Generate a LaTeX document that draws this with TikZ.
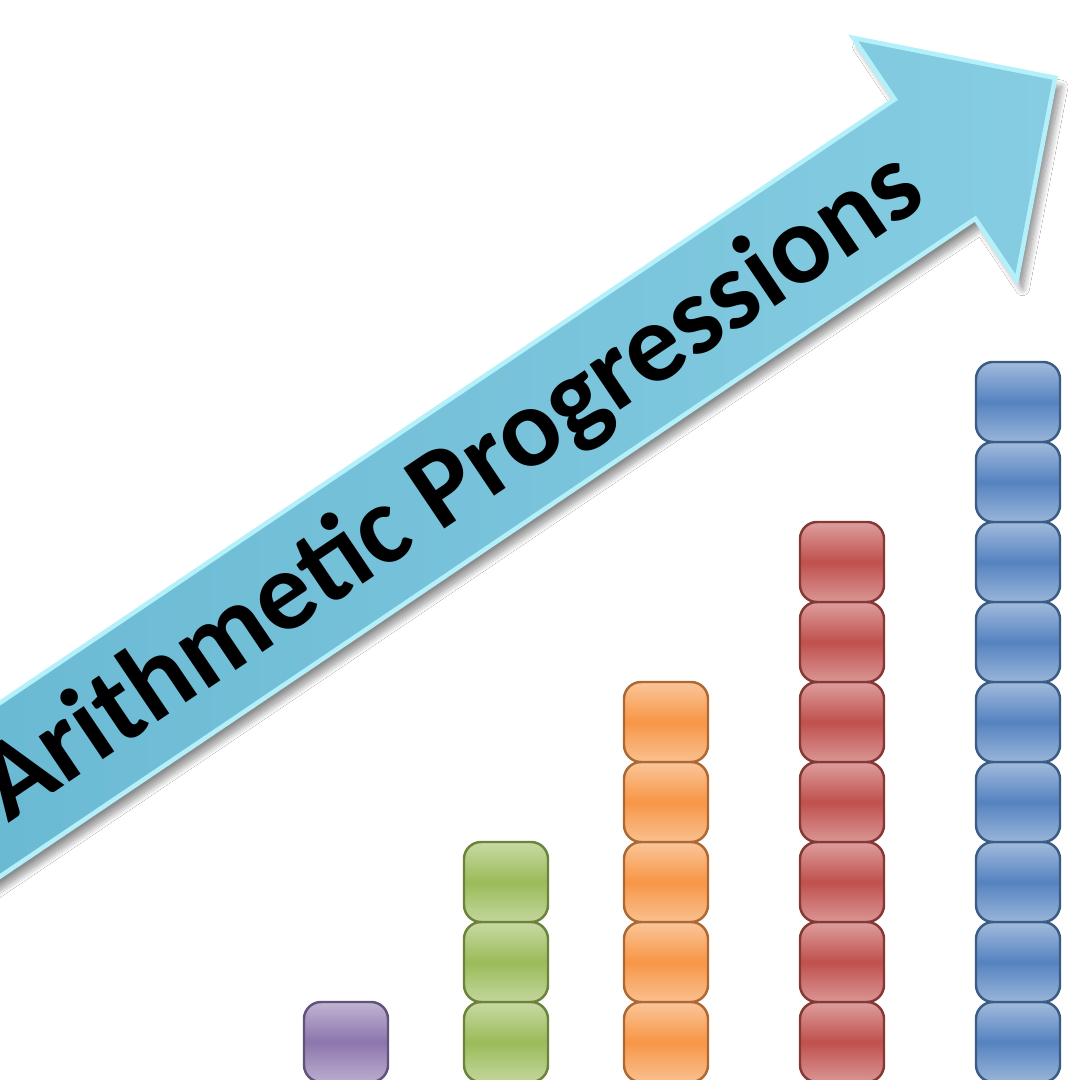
\documentclass[tikz,border=0pt]{standalone}
\usepackage{fontspec}
\setmainfont{Carlito}
\usepackage{tikz}
\usetikzlibrary{calc,shadows.blur}
\usepackage{xcolor}

\definecolor{arrowdark}{HTML}{64B5D0}
\definecolor{arrowlight}{HTML}{86CDE2}
\definecolor{arrowedge}{HTML}{B4F0FA}
\definecolor{apPurple}{HTML}{8C76AD}
\definecolor{apGreen}{HTML}{9BBB59}
\definecolor{apOrange}{HTML}{F79646}
\definecolor{apRed}{HTML}{C0504D}
\definecolor{apBlue}{HTML}{5583C0}

\begin{document}
\begin{tikzpicture}[
    brick/.style={rounded corners=1.7mm, line width=0.7pt, draw=#1!70!black,
      top color=#1!55!white, bottom color=#1!60!white, middle color=#1},
    title/.style={font=\fontsize{32}{34}\selectfont\bfseries, text=black}
  ]
    \clip (0,0) rectangle (10.8,10.8);
    \fill[white] (0,0) rectangle (10.8,10.8);
    % the arrow
    \begin{scope}[shift={(9.35,9.21)},rotate=34]
        \draw[line width=1.3pt, draw=arrowedge, left color=arrowdark, right color=arrowlight,
              blur shadow={shadow xshift=0.6mm, shadow yshift=-0.9mm, shadow blur steps=14, shadow opacity=45}]
            (1.45,0) -- (0,1.46) -- (0,0.72) -- (-14,0.72) -- (-14,-0.72)
            -- (0,-0.72) -- (0,-1.46) -- cycle;
    \end{scope}
    \node[title, rotate=34] (label) at (4.52,5.92) {Arithmetic Progressions};
    % the columns
    \foreach \x/\n/\c in {3.46/1/apPurple, 5.06/3/apGreen, 6.66/5/apOrange,
                          8.42/7/apRed, 10.18/9/apBlue} {
        \foreach \k in {1,...,\n} {
            \draw[brick=\c] (\x-0.42,{0.8*\k-0.82}) rectangle (\x+0.42,{0.8*\k-0.02});
        }
    }
\end{tikzpicture}
\end{document}
